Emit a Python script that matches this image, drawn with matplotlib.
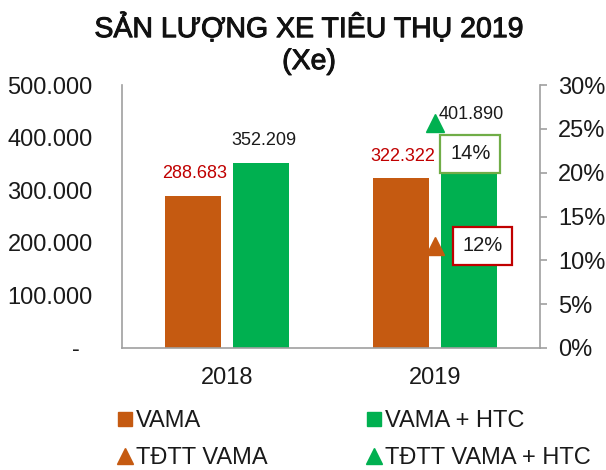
import matplotlib.pyplot as plt
import matplotlib.patheffects as pe
from matplotlib.lines import Line2D
from matplotlib.ticker import FuncFormatter
import numpy as np

plt.rcParams['font.family'] = ['Liberation Sans', 'DejaVu Sans']

years = ['2018', '2019']
vama = [288683, 322322]
vama_htc = [352209, 401890]
# tốc độ tăng trưởng (vị trí điểm tam giác)
tdtt_vama = 0.1165
tdtt_vama_htc = 0.257
tdtt_labels = ['12%', '14%']

orange = '#C55A11'
green = '#00B050'
red = '#C00000'
grey = '#A0A0A0'

fig = plt.figure(figsize=(6.06, 4.70), dpi=100)
ax = fig.add_axes([0.2013, 0.2596, 0.6897, 0.5594])

x = np.arange(len(years))
w = 0.27
off = 0.162
b1 = ax.bar(x - off, vama, w, color=orange)
b2 = ax.bar(x + off, vama_htc, w, color=green)

def fmt(v):
    return '{:,.0f}'.format(v).replace(',', '.')

for rect, v in zip(b1, vama):
    ax.annotate(fmt(v), (rect.get_x() + rect.get_width() / 2, v), xytext=(1, 16),
                textcoords='offset points', ha='center', va='center', fontsize=13, color=red)
for rect, v in zip(b2, vama_htc):
    ax.annotate(fmt(v), (rect.get_x() + rect.get_width() / 2, v), xytext=(2, 16),
                textcoords='offset points', ha='center', va='center', fontsize=13, color='#1a1a1a')

ax.set_xlim(-0.505, 1.505)
ax.set_ylim(0, 500000)
ax.set_yticks(np.arange(0, 500001, 100000))
ax.yaxis.set_major_formatter(FuncFormatter(lambda v, p: '-  ' if v == 0 else fmt(v)))
ax.set_xticks(x)
ax.set_xticklabels(years)
ax.tick_params(axis='both', length=0, labelsize=17, colors='#1a1a1a')
ax.tick_params(axis='y', pad=21)
ax.tick_params(axis='x', pad=14)
for s in ['left', 'bottom']:
    ax.spines[s].set_color(grey)
    ax.spines[s].set_linewidth(1.2)
ax.spines['top'].set_visible(False)
ax.spines['right'].set_visible(False)

ax2 = ax.twinx()
ax2.set_ylim(0, 0.30)
ax2.set_yticks(np.arange(0, 0.301, 0.05))
ax2.yaxis.set_major_formatter(FuncFormatter(lambda v, p: '{:.0f}%'.format(v * 100)))
ax2.tick_params(axis='y', direction='out', length=5, width=1.2, color=grey,
                labelsize=17, labelcolor='#1a1a1a', pad=8)
for s in ['left', 'bottom', 'top']:
    ax2.spines[s].set_visible(False)
ax2.spines['right'].set_color(grey)
ax2.spines['right'].set_linewidth(1.2)

ax2.plot([1], [tdtt_vama], marker='^', markersize=13, color=orange, linestyle='none')
ax2.plot([1], [tdtt_vama_htc], marker='^', markersize=13, color=green, linestyle='none')

ax2.text(1.17, 0.2215, tdtt_labels[1], ha='center', va='center', fontsize=14.5, color='#1a1a1a',
         bbox=dict(boxstyle='square,pad=0.48', fc='white', ec='#70AD47', lw=1.6))
ax2.text(1.228, 0.1165, tdtt_labels[0], ha='center', va='center', fontsize=14.5, color='#1a1a1a',
         bbox=dict(boxstyle='square,pad=0.48', fc='white', ec=red, lw=1.6))

# tiêu đề: chữ thường, viền mỏng cho đậm hơn một chút
thick = [pe.withStroke(linewidth=0.7, foreground='#111111')]
fig.text(0.51, 0.921, 'SẢN LƯỢNG XE TIÊU THỤ 2019', ha='center', va='baseline',
         fontsize=20.5, color='#111111', path_effects=thick)
fig.text(0.51, 0.853, '(Xe)', ha='center', va='baseline',
         fontsize=20.5, color='#111111', path_effects=thick)

handles = [
    Line2D([], [], marker='s', markersize=10, color=orange, linestyle='none'),
    Line2D([], [], marker='^', markersize=11, color=orange, linestyle='none'),
    Line2D([], [], marker='s', markersize=10, color=green, linestyle='none'),
    Line2D([], [], marker='^', markersize=11, color=green, linestyle='none'),
]
labels = ['VAMA', 'TĐTT VAMA', 'VAMA + HTC', 'TĐTT VAMA + HTC']
fig.legend(handles, labels, ncol=2, loc='upper left', bbox_to_anchor=(0.195, 0.127),
           frameon=False, fontsize=17, handlelength=0.55, handletextpad=0.22,
           columnspacing=4.2, labelspacing=0.62, borderpad=0, borderaxespad=0,
           labelcolor='#1a1a1a')

fig.savefig('out.png', dpi=100)
